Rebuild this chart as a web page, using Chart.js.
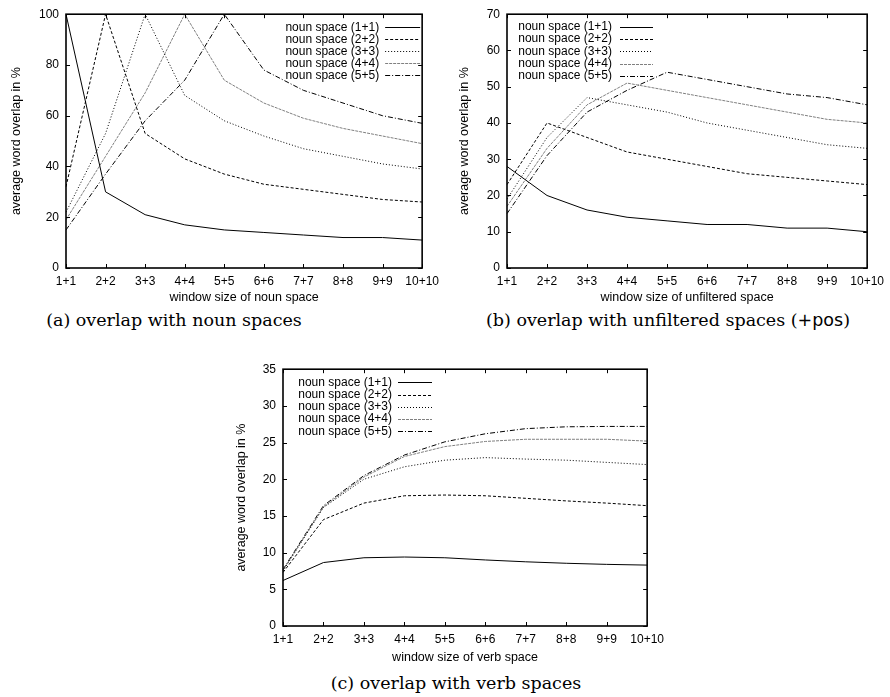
<!DOCTYPE html>
<html><head><meta charset="utf-8">
<script src="https://cdn.jsdelivr.net/npm/chart.js@4/dist/chart.umd.min.js"></script>
<style>
body{margin:0;background:#fff;width:890px;height:697px;position:relative;overflow:hidden;}
.box{position:absolute;}
.cap{position:absolute;font-family:"DejaVu Serif",serif;font-size:17.5px;white-space:nowrap;transform:translate(-50%,-50%);color:#000;}
.cap .sf{font-family:"DejaVu Sans",sans-serif;}
</style></head><body>
<div class="box" style="left:0;top:0;width:445px;height:305px"><canvas id="ca" width="445" height="305"></canvas></div>
<div class="box" style="left:445px;top:0;width:445px;height:305px"><canvas id="cb" width="445" height="305"></canvas></div>
<div class="box" style="left:225px;top:355px;width:445px;height:310px"><canvas id="cc" width="445" height="310"></canvas></div>
<div class="cap" style="left:174px;top:320px">(a) overlap with noun spaces</div>
<div class="cap" style="left:668px;top:320px">(b) overlap with unfiltered spaces (<span class="sf">+pos</span>)</div>
<div class="cap" style="left:456px;top:683px">(c) overlap with verb spaces</div>
<script>
// ---- data ----
const categories = ['1+1','2+2','3+3','4+4','5+5','6+6','7+7','8+8','9+9','10+10'];
const seriesLabels = ['noun space (1+1)','noun space (2+2)','noun space (3+3)','noun space (4+4)','noun space (5+5)'];

// (a) overlap with noun spaces
const a1 = [100, 30, 21, 17, 15, 14, 13, 12, 12, 11];
const a2 = [32, 100, 53, 43, 37, 33, 31, 29, 27, 26];
const a3 = [22, 53, 100, 68, 58, 52, 47, 44, 41, 39];
const a4 = [19, 44, 69, 100, 74, 65, 59, 55, 52, 49];
const a5 = [15, 37, 58, 74, 100, 78, 70, 65, 60, 57];

// (b) overlap with unfiltered spaces
const b1 = [28, 20, 16, 14, 13, 12, 12, 11, 11, 10];
const b2 = [23, 40, 36, 32, 30, 28, 26, 25, 24, 23];
const b3 = [19, 36, 47, 45, 43, 40, 38, 36, 34, 33];
const b4 = [17, 33, 45, 51, 49, 47, 45, 43, 41, 40];
const b5 = [15, 31, 43, 49, 54, 52, 50, 48, 47, 45];

// (c) overlap with verb spaces
const c1 = [6.2, 8.65, 9.3, 9.4, 9.3, 9.0, 8.75, 8.55, 8.4, 8.3];
const c2 = [7.3, 14.5, 16.75, 17.75, 17.85, 17.75, 17.4, 17.05, 16.75, 16.4];
const c3 = [7.5, 16.15, 20.0, 21.7, 22.6, 22.95, 22.75, 22.6, 22.3, 22.0];
const c4 = [7.6, 16.25, 20.3, 23.1, 24.45, 25.15, 25.45, 25.45, 25.45, 25.2];
const c5 = [7.7, 16.4, 20.5, 23.3, 25.1, 26.2, 26.9, 27.15, 27.2, 27.2];

const yTicksA = [0, 20, 40, 60, 80, 100];
const yTicksB = [0, 10, 20, 30, 40, 50, 60, 70];
const yTicksC = [0, 5, 10, 15, 20, 25, 30, 35];

const xTitles = ['window size of noun space','window size of unfiltered space','window size of verb space'];
const yTitle = 'average word overlap in %';

// ---- styles ----
const styles = [
  {color:'#000', dash:[]},
  {color:'#000', dash:[3,2]},
  {color:'#000', dash:[1,2]},
  {color:'#808080', dash:[3,1]},
  {color:'#000', dash:[5,2,1,2]}
];
const FONT = '"Liberation Sans", Arial, sans-serif';

const frame = {
  id:'frame',
  afterDatasetsDraw(chart){
    const {ctx, chartArea:a, scales:{x,y}} = chart;
    ctx.save();
    ctx.strokeStyle='#000'; ctx.lineWidth=1; ctx.setLineDash([]);
    ctx.beginPath();
    x.ticks.forEach((t,i)=>{const p=Math.round(x.getPixelForTick(i))+0.5;
      ctx.moveTo(p,a.bottom); ctx.lineTo(p,a.bottom-4); ctx.moveTo(p,a.top); ctx.lineTo(p,a.top+4);});
    y.ticks.forEach((t,i)=>{const p=Math.round(y.getPixelForTick(i))+0.5;
      ctx.moveTo(a.left,p); ctx.lineTo(a.left+4,p); ctx.moveTo(a.right,p); ctx.lineTo(a.right-4,p);});
    ctx.stroke();
    ctx.lineWidth=1.6;
    ctx.strokeRect(a.left,a.top,a.right-a.left,a.bottom-a.top);
    ctx.restore();
  }
};

const gpLegend = {
  id:'gpLegend',
  afterDraw(chart, args, o){
    const {ctx, chartArea:a} = chart;
    const base = o.fromRight ? a.right : a.left;
    ctx.save();
    ctx.font = '12px ' + FONT;
    ctx.textAlign='right'; ctx.textBaseline='middle'; ctx.fillStyle='#000';
    chart.data.datasets.forEach((ds,i)=>{
      const yy = a.top + o.y0 + i*o.dy;
      ctx.fillText(ds.label, base + o.textX, yy);
      ctx.beginPath();
      ctx.strokeStyle = ds.borderColor; ctx.lineWidth = 1; ctx.setLineDash(ds.borderDash||[]);
      ctx.moveTo(base + o.s0, Math.round(yy)+0.5); ctx.lineTo(base + o.s1, Math.round(yy)+0.5);
      ctx.stroke();
    });
    ctx.restore();
  }
};

function makeChart(id, series, ticks, xTitle, geo){
  const datasets = series.map((d,i)=>({
    label: seriesLabels[i], data: d,
    borderColor: styles[i].color, borderDash: styles[i].dash,
    borderWidth: 1, pointRadius: 0, tension: 0, fill:false
  }));
  return new Chart(document.getElementById(id), {
    type:'line',
    data:{labels: categories, datasets},
    plugins:[frame, gpLegend],
    options:{
      responsive:false, animation:false, devicePixelRatio:1,
      layout:{padding:{top:geo.padTop, right:geo.padRight, left:0, bottom:0}},
      plugins:{legend:{display:false}, tooltip:{enabled:false}, gpLegend: geo.legend},
      scales:{
        x:{type:'category', offset:false,
           grid:{display:false, drawTicks:false}, border:{display:false},
           ticks:{autoSkip:false, maxRotation:0, padding:6, color:'#000', font:{family:FONT, size:12}},
           title:{display:true, text:xTitle, color:'#000', font:{family:FONT, size:12.5}, padding:{top:0, bottom:0.3}},
           afterFit(s){ s.height = geo.xH; }
        },
        y:{min:0, max:ticks[ticks.length-1],
           afterBuildTicks(s){ s.ticks = ticks.map(v=>({value:v})); },
           grid:{display:false, drawTicks:false}, border:{display:false},
           ticks:{padding:7, color:'#000', font:{family:FONT, size:12}},
           title:{display:true, text:yTitle, color:'#000', font:{family:FONT, size:12.5}, padding:{top:geo.yTitlePad, bottom:0}},
           afterFit(s){ s.width = geo.yW; }
        }
      }
    }
  });
}

makeChart('ca', [a1,a2,a3,a4,a5], yTicksA, xTitles[0],
  {padTop:11, padRight:22, xH:37, yW:66, yTitlePad:9.1,
   legend:{fromRight:true, textX:-43, s0:-37, s1:-2, y0:13, dy:12}});
makeChart('cb', [b1,b2,b3,b4,b5], yTicksB, xTitles[1],
  {padTop:11, padRight:18, xH:37, yW:62, yTitlePad:12.1,
   legend:{fromRight:false, textX:105, s0:113, s1:146, y0:12.5, dy:12.3}});
makeChart('cc', [c1,c2,c3,c4,c5], yTicksC, xTitles[2],
  {padTop:14, padRight:22, xH:39, yW:58, yTitlePad:9.1,
   legend:{fromRight:false, textX:109, s0:115, s1:149, y0:13, dy:12.3}});
</script>
</body></html>
